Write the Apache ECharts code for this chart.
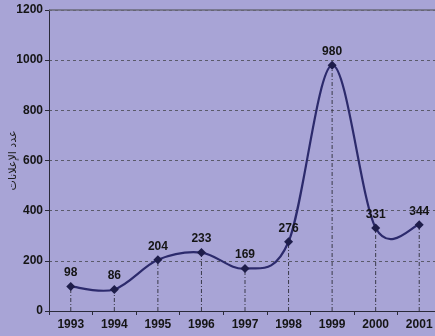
<!DOCTYPE html>
<html><head><meta charset="utf-8">
<script src="https://cdn.jsdelivr.net/npm/echarts@6/dist/echarts.min.js"></script>
<style>html,body{margin:0;padding:0;background:#a8a4d6;}#c{width:435px;height:336px;}</style>
</head><body><div id="c"></div>
<script>
const years = ['1993','1994','1995','1996','1997','1998','1999','2000','2001'];
const values = [98, 86, 204, 233, 169, 276, 980, 331, 344];
const yTicks = [0, 200, 400, 600, 800, 1000, 1200];
const yName = 'عدد الإعلانات';

const FONT = '"Liberation Sans Narrow","Liberation Sans",Arial,sans-serif';
const chart = echarts.init(document.getElementById('c'));

function renderCurve(params, api) {
  const i = params.dataIndex;
  const n = values.length;
  const pts = values.map((v, k) => api.coord([k, v]));
  const children = [];
  const base = api.coord([i, 0]);
  children.push({
    type: 'line', z2: 1,
    shape: { x1: pts[i][0], y1: base[1], x2: pts[i][0], y2: pts[i][1] },
    style: { stroke: '#3a3a4a', lineWidth: 1, lineDash: [4, 2, 1, 2] }
  });
  if (i < n - 1) {
    const p0 = pts[Math.max(i - 1, 0)], p1 = pts[i], p2 = pts[i + 1], p3 = pts[Math.min(i + 2, n - 1)];
    children.push({
      type: 'bezierCurve', z2: 5,
      shape: {
        x1: p1[0], y1: p1[1], x2: p2[0], y2: p2[1],
        cpx1: p1[0] + (p2[0] - p0[0]) / 6, cpy1: p1[1] + (p2[1] - p0[1]) / 6,
        cpx2: p2[0] - (p3[0] - p1[0]) / 6, cpy2: p2[1] - (p3[1] - p1[1]) / 6
      },
      style: { stroke: '#2c2a6c', lineWidth: 2.2, fill: null }
    });
  }
  return { type: 'group', children };
}

chart.setOption({
  backgroundColor: '#a8a4d6',
  animation: false,
  grid: { left: 49, right: -6, top: 10, bottom: 25, containLabel: false, outerBoundsMode: 'none' },
  xAxis: {
    type: 'category', data: years, boundaryGap: true,
    axisLine: { lineStyle: { color: '#2a2a3a', width: 1 } },
    axisTick: { show: true, length: 4, interval: 0, lineStyle: { color: '#2a2a3a' } },
    axisLabel: { color: '#151515', fontFamily: FONT, fontWeight: 'bold', fontSize: 12, margin: 8, interval: 0 },
    splitLine: { show: false }
  },
  yAxis: {
    type: 'value', min: 0, max: 1200, interval: 200,
    name: yName, nameLocation: 'middle', nameGap: 30, nameRotate: 90, nameMoveOverlap: false,
    nameTextStyle: { color: '#202020', fontSize: 11, fontFamily: '"DejaVu Sans",sans-serif' },
    axisLine: { show: true, lineStyle: { color: '#2a2a3a', width: 1 } },
    axisTick: { show: true, length: 4, lineStyle: { color: '#2a2a3a' } },
    axisLabel: { color: '#151515', fontFamily: FONT, fontWeight: 'bold', fontSize: 12, margin: 6,
      formatter: v => yTicks.includes(v) ? String(v) : '' },
    splitLine: { show: true, lineStyle: { color: '#5a5a6a', type: [3, 3], width: 1 } }
  },
  series: [
    {
      type: 'custom', renderItem: renderCurve,
      data: values.map((v, k) => [k, v]), z: 3, silent: true
    },
    {
      type: 'line', data: values, z: 5,
      lineStyle: { opacity: 0 },
      symbol: 'diamond', symbolSize: 9, showAllSymbol: true,
      itemStyle: { color: '#1e1d4a' },
      label: { show: true, position: 'top', distance: 3, color: '#151515', fontFamily: FONT, fontWeight: 'bold', fontSize: 12 },
      markLine: {
        silent: true, symbol: 'none', label: { show: false },
        lineStyle: { color: '#6a6a78', type: 'solid', width: 1.5 },
        data: [{ yAxis: 1200 }]
      }
    }
  ]
});
</script>
</body></html>
